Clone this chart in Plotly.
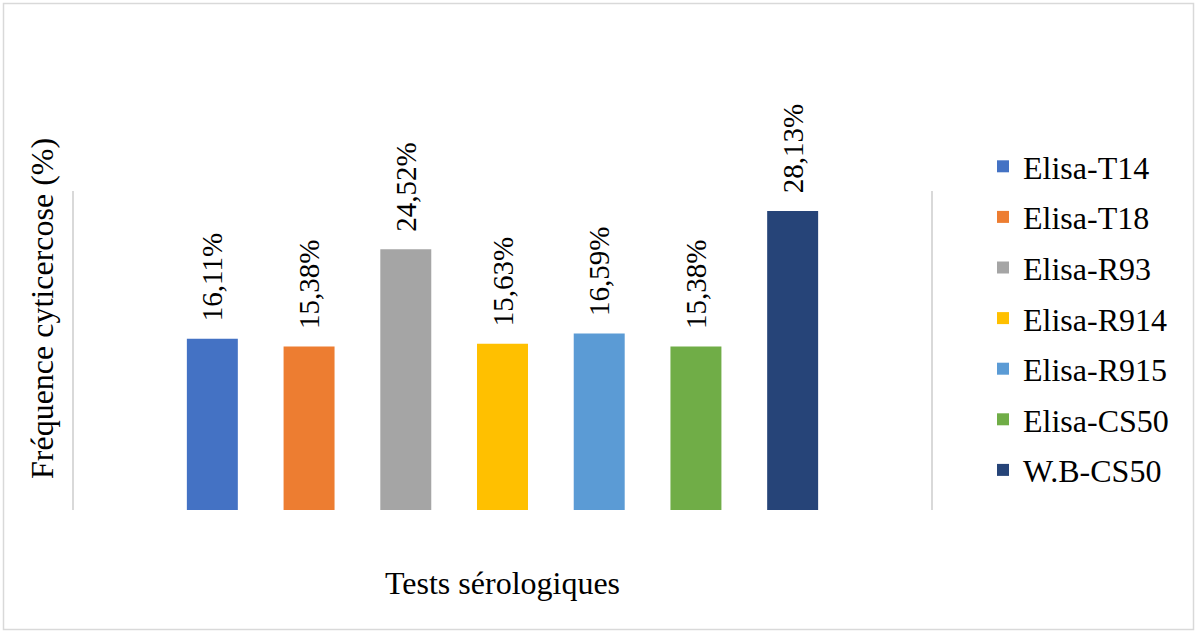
import plotly.graph_objects as go

series_names = ["Elisa-T14", "Elisa-T18", "Elisa-R93", "Elisa-R914", "Elisa-R915", "Elisa-CS50", "W.B-CS50"]
values = [16.11, 15.38, 24.52, 15.63, 16.59, 15.38, 28.13]
colors = ["#4472C4", "#ED7D31", "#A5A5A5", "#FFC000", "#5B9BD5", "#70AD47", "#264478"]
category = ["Tests sérologiques"]
x_title = "Tests sérologiques"
y_title = "Fréquence cyticercose (%)"

FONT = "Liberation Serif, Times New Roman, serif"

W, H = 1196, 633
L, R, T, B = 74, 931, 191, 510
pw, ph = R - L, B - T

def px_x(p):
    return (p - L) / pw

def px_y(p):
    return (B - p) / ph

fig = go.Figure()
for name, v, c in zip(series_names, values, colors):
    fig.add_trace(go.Bar(
        x=category, y=[v], name=name, legendgroup=name,
        marker=dict(color=c, line=dict(width=0)),
        texttemplate="\u00a0\u00a0%{y:.2f}%", textposition="outside",
        textangle=-90, cliponaxis=False, constraintext="none",
        textfont=dict(family=FONT, size=29, color="#000000"),
    ))

fig.update_layout(
    width=W, height=H,
    margin=dict(l=L, r=W - R, t=T, b=H - B, pad=0),
    paper_bgcolor="white", plot_bgcolor="white",
    barmode="group", bargap=0.21, bargroupgap=0.473,
    separators=", ",
    font=dict(family=FONT, color="#000000"),
    showlegend=True,
    legend=dict(
        x=px_x(983), xanchor="left", y=px_y(318.5), yanchor="middle",
        font=dict(family=FONT, size=32, color="#000000"),
        tracegroupgap=6, traceorder="grouped", maxheight=600,
        bgcolor="rgba(0,0,0,0)",
    ),
    xaxis=dict(showticklabels=False, showgrid=False, zeroline=False, showline=False, ticks=""),
    yaxis=dict(range=[0, 30], showticklabels=False, showgrid=False, zeroline=False,
               showline=True, mirror=True, linecolor="#D9D9D9", linewidth=2, ticks=""),
    annotations=[
        dict(text=x_title, xref="paper", yref="paper", x=px_x(502.5), y=px_y(583),
             xanchor="center", yanchor="middle", showarrow=False,
             font=dict(family=FONT, size=32, color="#000000")),
        dict(text=y_title, xref="paper", yref="paper", x=px_x(42), y=px_y(309),
             xanchor="center", yanchor="middle", showarrow=False, textangle=-90,
             font=dict(family=FONT, size=32, color="#000000")),
    ],
    shapes=[
        dict(type="rect", xref="paper", yref="paper",
             x0=px_x(3.5), x1=px_x(1193.5), y0=px_y(629.5), y1=px_y(3.5),
             line=dict(color="#D9D9D9", width=1.5), fillcolor="rgba(0,0,0,0)", layer="below"),
    ],
)

fig.write_html("out.html", config={"displayModeBar": False},
               post_script="document.body.style.margin='0';")
